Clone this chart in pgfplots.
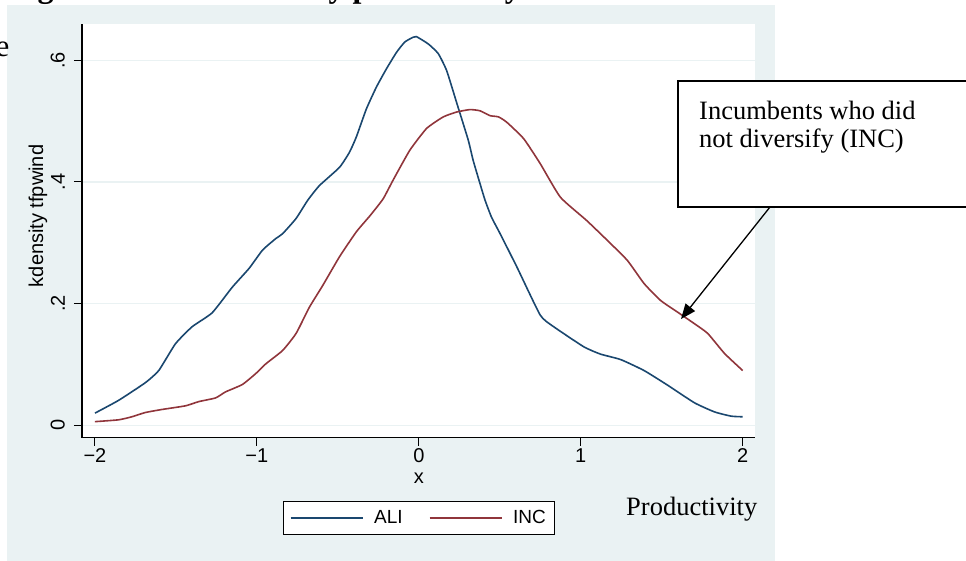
\documentclass[border=0pt]{standalone}
\usepackage{pgfplots}
\pgfplotsset{compat=1.18}
\usepackage{fontspec}
\setmainfont{Liberation Serif}
\setsansfont{Liberation Sans}
\usetikzlibrary{arrows.meta}
\definecolor{bgc}{RGB}{234,242,243}
\definecolor{gridc}{RGB}{234,242,243}
\definecolor{navy}{RGB}{26,71,111}
\definecolor{maroon}{RGB}{144,53,59}

\pgfplotstableread{
x y
-2.000 0.020
-1.854 0.041
-1.689 0.070
-1.606 0.090
-1.503 0.134
-1.400 0.162
-1.276 0.185
-1.152 0.227
-1.048 0.258
-0.965 0.288
-0.883 0.307
-0.841 0.315
-0.758 0.340
-0.686 0.370
-0.614 0.394
-0.490 0.424
-0.428 0.449
-0.386 0.474
-0.324 0.520
-0.262 0.556
-0.200 0.586
-0.138 0.613
-0.087 0.630
-0.035 0.638
-0.015 0.639
0.058 0.627
0.120 0.611
0.172 0.583
0.234 0.530
0.305 0.469
0.335 0.436
0.377 0.398
0.409 0.370
0.449 0.342
0.500 0.316
0.606 0.260
0.750 0.181
0.833 0.162
1.019 0.129
1.122 0.117
1.247 0.108
1.391 0.090
1.536 0.066
1.702 0.037
1.826 0.022
1.929 0.015
2.000 0.014
}\alidata

\pgfplotstableread{
x y
-2.000 0.006
-1.854 0.009
-1.772 0.014
-1.689 0.021
-1.586 0.026
-1.441 0.032
-1.358 0.039
-1.255 0.045
-1.193 0.055
-1.090 0.067
-1.007 0.085
-0.945 0.101
-0.841 0.123
-0.758 0.151
-0.676 0.194
-0.593 0.230
-0.490 0.277
-0.386 0.318
-0.300 0.345
-0.221 0.372
-0.159 0.403
-0.056 0.452
0.048 0.488
0.151 0.507
0.234 0.515
0.316 0.519
0.378 0.517
0.440 0.509
0.492 0.507
0.544 0.498
0.648 0.471
0.750 0.430
0.874 0.375
1.035 0.337
1.164 0.304
1.288 0.271
1.391 0.233
1.494 0.205
1.598 0.186
1.702 0.167
1.784 0.151
1.888 0.118
2.000 0.090
}\incdata

\begin{document}
\begin{tikzpicture}
\useasboundingbox (0pt,0pt) rectangle (966pt,560pt);
\clip (0pt,0pt) rectangle (966pt,560pt);
\fill[bgc] (7pt,-2pt) rectangle (775pt,555pt);
% cut-off text from surrounding page
\node[anchor=base west, inner sep=0pt, font=\fontsize{32}{36}\selectfont\bfseries] at (9pt,562.5pt) {Figure 1: Kernel density productivity};
\node[anchor=base east, inner sep=0pt, font=\fontsize{31}{34}\selectfont] at (9.5pt,503pt) {Kernel density estimate};
\begin{axis}[
  at={(82pt,122.3pt)}, anchor=south west,
  width=673pt, height=413.7pt, scale only axis,
  xmin=-2.08, xmax=2.076, ymin=-0.0204, ymax=0.6597,
  axis x line*=bottom, axis y line*=left,
  axis line style={line width=1.2pt, black, -},
  axis background/.style={fill=white},
  tick align=outside, major tick length=8pt,
  tick style={line width=1pt, black},
  xtick={-2,-1,0,1,2}, xticklabels={−2,−1,0,1,2},
  ytick={0,0.2,0.4,0.6}, yticklabels={0,.2,.4,.6},
  ymajorgrids, grid style={gridc, line width=1.5pt},
  tick label style={font=\fontsize{20}{22}\sffamily, inner sep=0pt},
  xticklabel style={anchor=north},
  xticklabel shift=3pt,
  yticklabel style={rotate=90, anchor=south},
  yticklabel shift=9pt,
  xlabel={x}, ylabel={kdensity tfpwind},
  every axis x label/.style={at={(axis description cs:0.5007,-0.1102)}, anchor=base, font=\fontsize{20}{22}\sffamily, inner sep=0pt},
  every axis y label/.style={at={(axis description cs:-0.0655,0.536)}, rotate=90, anchor=center, font=\fontsize{20}{22}\sffamily, inner sep=0pt},
  legend columns=2,
  legend image code/.code={\draw[#1] (0pt,0pt) -- (72pt,0pt);},
  legend style={at={(0.5005,-0.1523)}, anchor=north, draw=black, line width=1pt, fill=white,
    font=\fontsize{19}{21}\sffamily, inner xsep=6.5pt, inner ysep=7.4pt,
    nodes={inner xsep=2pt, inner ysep=2pt},
    /tikz/every odd column/.append style={column sep=8.7pt},
    /tikz/every even column/.append style={column sep=24pt}},
]
\addplot[navy, line width=1.6pt, smooth, tension=0.3] table[x=x,y=y] {\alidata};
\addlegendentry{ALI}
\addplot[maroon, line width=1.6pt, smooth, tension=0.3] table[x=x,y=y] {\incdata};
\addlegendentry{INC}
\end{axis}
\draw[line width=1.3pt, fill=white] (678pt,479pt) rectangle (985pt,353pt);
\node[anchor=base west, inner sep=0pt, font=\fontsize{26.5}{28}\selectfont] at (699pt,440pt) {Incumbents who did};
\node[anchor=base west, inner sep=0pt, font=\fontsize{26.5}{28}\selectfont] at (699pt,412pt) {not diversify (INC)};
\draw[-{Triangle[length=15pt,width=12pt]}, line width=1.3pt] (770pt,353pt) -- (681pt,241pt);
\node[anchor=base west, inner sep=0pt, font=\fontsize{26.5}{28}\selectfont] at (626pt,45pt) {Productivity};
\end{tikzpicture}
\end{document}
